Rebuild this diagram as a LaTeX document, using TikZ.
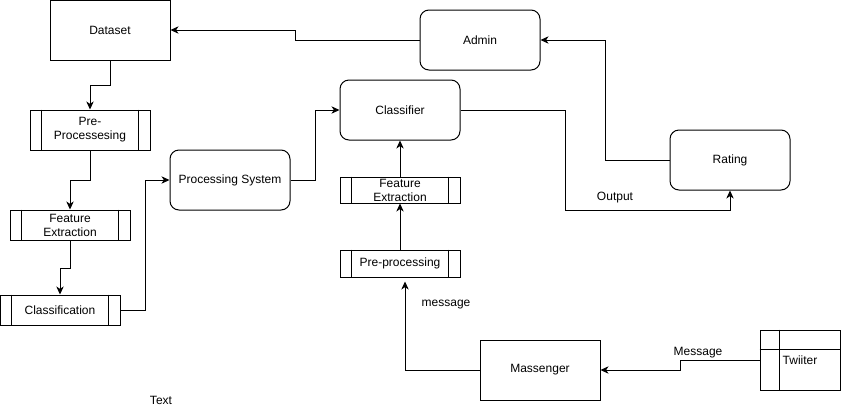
\documentclass[tikz,border=0pt]{standalone}
\usepackage{fontspec}
\setmainfont{Liberation Sans}
\usetikzlibrary{arrows.meta}
\begin{document}
\begin{tikzpicture}[x=0.75pt,y=-0.75pt,
  every node/.style={font=\fontsize{9}{10.5}\selectfont},
  box/.style={draw, line width=0.75pt, minimum width=90pt, minimum height=45pt, inner sep=0pt, align=center},
  rbox/.style={box, rounded corners=6.75pt},
  proc/.style={draw, line width=0.75pt, minimum width=90pt, inner sep=0pt, align=center},
  arr/.style={line width=0.75pt, -{Stealth[length=6pt,width=5.5pt,inset=1.8pt]}},
  lbl/.style={inner sep=1pt}]
\useasboundingbox (0,0) rectangle (841,411);
% nodes
\node[box] (ds) at (110,30) {Dataset};
\node[rbox] (adm) at (480,40) {Admin};
\node[proc, minimum height=30pt] (pre1) at (90,130) {Pre-\\Processesing};
\node[proc, minimum height=22.5pt] (fe1) at (70,225) {Feature\\Extraction};
\node[proc, minimum height=22.5pt] (cls) at (60,310) {Classification};
\node[rbox] (ps) at (230,180) {Processing System};
\node[rbox] (clf) at (400,110) {Classifier};
\node[proc, minimum height=19.5pt] (fe2) at (400,190) {Feature\\Extraction};
\node[proc, minimum height=20.25pt] (pre2) at (400,263.5) {Pre-processing};
\node[box] (mas) at (540,370) {Massenger};
\node[rbox] (rat) at (730,160) {Rating};
\node[draw, line width=0.75pt, minimum width=60pt, minimum height=45pt, inner sep=0pt] (tw) at (800,360) {Twiiter};
% inner lines of process shapes
\foreach \n in {pre1,fe1,cls,fe2,pre2}{
  \draw[line width=0.75pt] ([xshift=9pt]\n.north west) -- ([xshift=9pt]\n.south west);
  \draw[line width=0.75pt] ([xshift=-9pt]\n.north east) -- ([xshift=-9pt]\n.south east);
}
% internal storage lines
\draw[line width=0.75pt] ([xshift=15pt]tw.north west) -- ([xshift=15pt]tw.south west);
\draw[line width=0.75pt] ([yshift=-15pt]tw.north west) -- ([yshift=-15pt]tw.north east);
% connectors
\draw[arr] (adm.west) -- (295,40) |- (ds.east);
\draw[arr] (ds.south) -- (110,85) -| (pre1.north);
\draw[arr] (pre1.south) -- (90,180) -| (fe1.north);
\draw[arr] (fe1.south) -- (70,268) -| (cls.north);
\draw[arr] (cls.east) -- (145,310) |- (ps.west);
\draw[arr] (ps.east) -- (315,180) |- (clf.west);
\draw[arr] (fe2.north) -- (clf.south);
\draw[arr] (pre2.north) -- (fe2.south);
\draw[arr] (mas.west) -| ([xshift=3.75pt,yshift=-3pt]pre2.south);
\draw[arr] (tw.west) -- (680,360) |- (mas.east);
\draw[arr] (clf.east) -- (565,110) -- (565,210) -| (rat.south);
\draw[arr] (rat.west) -- (605,160) |- (adm.east);
% labels
\node[lbl] (lmsg) at (446,305) {message};
\node[lbl] (lMsg) at (698,353) {Message};
\node[lbl] (lout) at (615,198) {Output};
\node[lbl] (ltext) at (161,400) {Text};
\end{tikzpicture}
\end{document}
